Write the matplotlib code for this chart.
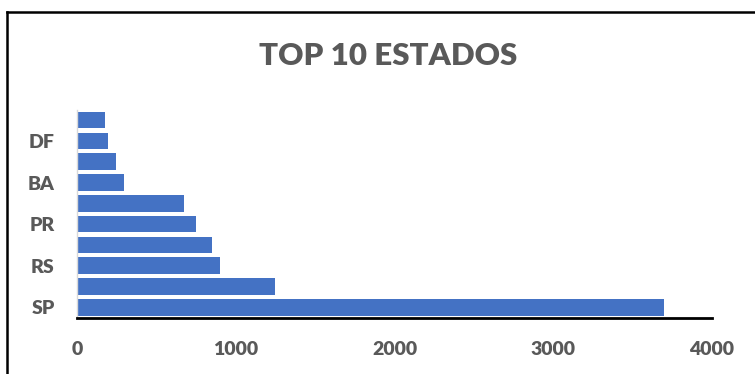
import matplotlib
matplotlib.use("Agg")
import matplotlib.pyplot as plt
from matplotlib.lines import Line2D

estados = ["SP", "RJ", "RS", "MG", "PR", "SC", "BA", "GO", "DF", "ES"]
valores = [3700, 1248, 898, 848, 747, 673, 296, 245, 197, 178]
rotulos_visiveis = ["SP", "", "RS", "", "PR", "", "BA", "", "DF", ""]
xticks = [0, 1000, 2000, 3000, 4000]

plt.rcParams['font.family'] = ['Lato', 'DejaVu Sans']
fig = plt.figure(figsize=(7.55, 3.74), dpi=100)
ax = fig.add_axes([0.102, 0.1505, 0.841, 0.556])

y = list(range(len(estados)))
ax.barh(y, valores, height=0.8, color="#4472C4")
ax.set_ylim(-0.5, len(estados) - 0.5)
ax.set_xlim(0, 4000)
ax.set_xticks(xticks)
ax.set_xticklabels([str(t) for t in xticks])
ax.set_yticks(y)
ax.set_yticklabels(rotulos_visiveis)

for s in ["top", "right"]:
    ax.spines[s].set_visible(False)
ax.spines["bottom"].set_color("black")
ax.spines["bottom"].set_linewidth(2)
ax.spines["left"].set_color("#D9D9D9")
ax.spines["left"].set_linewidth(1)

ax.tick_params(axis="both", length=0, labelsize=14, colors="#595959")
ax.tick_params(axis="x", pad=17)
ax.tick_params(axis="y", pad=16)
for lbl in ax.get_xticklabels() + ax.get_yticklabels():
    lbl.set_fontweight("heavy")

fig.text(0.514, 1 - 56 / 374, "TOP 10 ESTADOS", ha="center", va="center",
         fontsize=22.5, fontweight="heavy", color="#595959")

# outer chart frame (top and left visible)
fig.add_artist(Line2D([7 / 755, 1.0], [1 - 12 / 374, 1 - 12 / 374],
                      transform=fig.transFigure, color="black", linewidth=1.8))
fig.add_artist(Line2D([7 / 755, 7 / 755], [0.0, 1 - 12 / 374],
                      transform=fig.transFigure, color="black", linewidth=1.8))

fig.savefig("out.png", dpi=100)
